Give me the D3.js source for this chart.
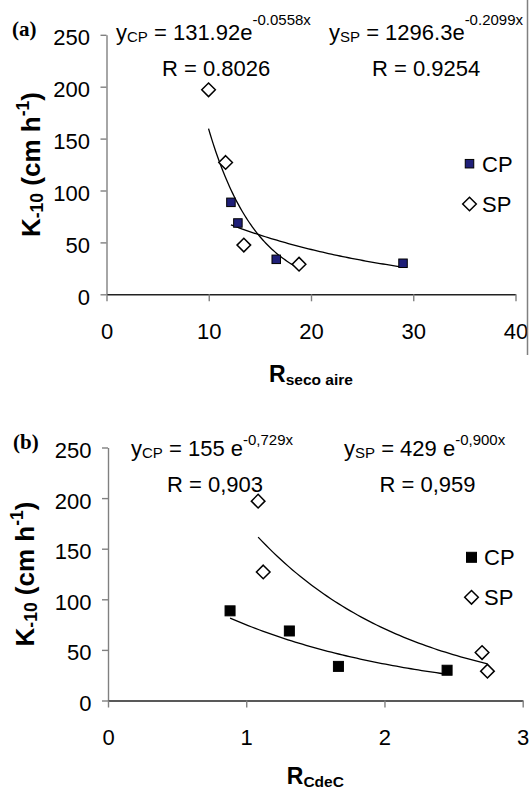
<!DOCTYPE html>
<html>
<head>
<meta charset="utf-8">
<script src="https://cdn.jsdelivr.net/npm/d3@7"></script>
<style>
  html, body { margin: 0; padding: 0; background: #fff; }
  svg { display: block; }
</style>
</head>
<body>
<svg id="chart" width="529" height="789"></svg>
<script>
// Sample measurements: K-10 infiltration (cm h-1) for CP and SP plots
const cpK10 = [88.6, 68.7, 33.7, 29.9];
const spK10 = [197, 127, 47.4, 29.0];

// Panel (a): air-dry aggregate ratio
const cpRsecoAire = [12.17, 12.85, 16.6, 29.0];
const spRsecoAire = [9.98, 11.65, 13.43, 18.83];

// Panel (b): CdeC ratio
const cpRCdeC = [0.883, 1.312, 1.667, 2.453];
const spRCdeC = [1.086, 1.123, 2.706, 2.745];

// Exponential fits y = a * e^(b x): [CP, SP]
const fitAmpA = [131.92, 1296.3];
const fitRateA = [-0.0558, -0.2099];
const fitAmpB = [155, 429];
const fitRateB = [-0.729, -0.900];

// Header labels
const eqA = [
  { sub: "CP", main: " = 131.92e", sup: "-0.0558x", r: "R = 0.8026" },
  { sub: "SP", main: " = 1296.3e", sup: "-0.2099x", r: "R = 0.9254" }
];
const eqB = [
  { sub: "CP", main: " = 155 e", sup: "-0,729x", r: "R = 0,903" },
  { sub: "SP", main: " = 429 e", sup: "-0,900x", r: "R = 0,959" }
];

const yTicks = [0, 50, 100, 150, 200, 250];
const xTicksA = [0, 10, 20, 30, 40];
const xTicksB = [0, 1, 2, 3];
const seriesNames = ["CP", "SP"];

const SANS = "'Liberation Sans', Arial, sans-serif";
const SERIF = "'Liberation Serif', 'Times New Roman', serif";

const svg = d3.select("#chart");

function drawPanel(cfg) {
  const g = svg.append("g").style("font-family", SANS);
  const x = d3.scaleLinear().domain(cfg.xDomain).range(cfg.xRange);
  const y = d3.scaleLinear().domain([0, 250]).range(cfg.yRange);

  // Y axis
  const ya = g.append("g")
    .attr("transform", `translate(${x(0)},0)`)
    .call(d3.axisLeft(y).tickValues(yTicks).tickFormat(d3.format("d"))
      .tickSize(6).tickPadding(10.5).tickSizeOuter(0));
  ya.select(".domain").attr("stroke", "#808080").attr("stroke-width", 1.4);
  ya.selectAll(".tick line").attr("stroke", "#808080").attr("stroke-width", 1.4);
  ya.selectAll(".tick text").style("font-family", SANS).attr("font-size", 22).attr("fill", "#000")
    .attr("dy", "0.45em");

  // X axis
  const xa = g.append("g")
    .attr("transform", `translate(0,${y(0)})`)
    .call(d3.axisBottom(x).tickValues(cfg.xTicks).tickFormat(d3.format("d"))
      .tickSize(7).tickPadding(22).tickSizeOuter(0));
  xa.select(".domain").attr("stroke", "#222").attr("stroke-width", 1.4);
  xa.selectAll(".tick line").attr("stroke", "#808080").attr("stroke-width", 1.4);
  xa.selectAll(".tick text").style("font-family", SANS).attr("font-size", 22).attr("fill", "#000");

  // Trend lines from the fitted equations, over each series' data range
  const line = d3.line().x(d => x(d[0])).y(d => y(d[1]));
  [cfg.cpX, cfg.spX].forEach((xs, i) => {
    const lo = d3.min(xs), hi = d3.max(xs);
    const pts = d3.range(0, 61).map(k => {
      const xv = lo + (hi - lo) * k / 60;
      return [xv, cfg.amp[i] * Math.exp(cfg.rate[i] * xv)];
    });
    g.append("path").attr("d", line(pts)).attr("fill", "none")
      .attr("stroke", "#000").attr("stroke-width", 1.3);
  });

  // CP squares
  g.selectAll(".cp").data(cfg.cpX.map((v, i) => [v, cpK10[i]])).join("rect")
    .attr("x", d => x(d[0]) - cfg.sq / 2).attr("y", d => y(d[1]) - cfg.sq / 2)
    .attr("width", cfg.sq).attr("height", cfg.sq)
    .attr("fill", cfg.cpFill).attr("stroke", "#000").attr("stroke-width", 1);

  // SP diamonds
  const dm = 6.8;
  const diamond = (cx, cy) => `M${cx},${cy - dm}L${cx + dm},${cy}L${cx},${cy + dm}L${cx - dm},${cy}Z`;
  g.selectAll(".sp").data(cfg.spX.map((v, i) => [v, spK10[i]])).join("path")
    .attr("d", d => diamond(x(d[0]), y(d[1])))
    .attr("fill", "#fff").attr("stroke", "#000").attr("stroke-width", 1.5);

  // Legend
  const lg = g.append("g");
  lg.append("rect").attr("x", cfg.legX - cfg.sq / 2).attr("y", cfg.legY1 - cfg.sq / 2)
    .attr("width", cfg.sq).attr("height", cfg.sq)
    .attr("fill", cfg.cpFill).attr("stroke", "#000").attr("stroke-width", 1);
  lg.append("path").attr("d", diamond(cfg.legX, cfg.legY2))
    .attr("fill", "#fff").attr("stroke", "#000").attr("stroke-width", 1.5);
  lg.append("text").attr("x", cfg.legX + 12.5).attr("y", cfg.legY1 + 8).attr("font-size", 22).text(seriesNames[0]);
  lg.append("text").attr("x", cfg.legX + 12.5).attr("y", cfg.legY2 + 8).attr("font-size", 22).text(seriesNames[1]);

  // Panel letter
  g.append("text").attr("x", cfg.letterX).attr("y", cfg.letterY)
    .style("font-family", SERIF)
    .attr("font-weight", "bold").attr("font-size", 21).text(cfg.letter);

  // Equations and R values
  cfg.eq.forEach((e, i) => {
    const t = g.append("text").attr("x", cfg.eqX[i]).attr("y", cfg.eqY).attr("font-size", 22);
    t.append("tspan").text("y");
    t.append("tspan").attr("font-size", 15).attr("dy", 2).text(e.sub);
    t.append("tspan").attr("dy", -2).text(e.main);
    t.append("tspan").attr("font-size", 15).attr("dy", -cfg.supRise).text(e.sup);
    g.append("text").attr("x", cfg.rX[i]).attr("y", cfg.eqY + 36).attr("font-size", 22).text(e.r);
  });

  // Y title: K-10 (cm h-1)
  const yt = g.append("text")
    .attr("transform", `translate(${cfg.yTitleX},${(cfg.yRange[0] + cfg.yRange[1]) / 2}) rotate(-90)`)
    .attr("text-anchor", "middle").attr("font-weight", "bold").attr("font-size", 26);
  yt.append("tspan").text("K");
  yt.append("tspan").attr("font-size", 17.5).attr("dy", 3).text("-10");
  yt.append("tspan").attr("dy", -3).text(" (cm h");
  yt.append("tspan").attr("font-size", 17.5).attr("dy", -11).text("-1");
  yt.append("tspan").attr("dy", 11).text(")");

  // X title
  const xt = g.append("text")
    .attr("x", (cfg.xRange[0] + cfg.xRange[1]) / 2).attr("y", cfg.xTitleY)
    .attr("text-anchor", "middle").attr("font-weight", "bold").attr("font-size", 23);
  xt.append("tspan").text("R");
  xt.append("tspan").attr("font-size", 15.5).attr("dy", 3).text(cfg.xSub);
}

drawPanel({
  xDomain: [0, 40], xRange: [106.5, 515.5], yRange: [294.3, 34.8], xTicks: xTicksA,
  cpX: cpRsecoAire, spX: spRsecoAire, amp: fitAmpA, rate: fitRateA,
  sq: 8.5, cpFill: "#1f1f78",
  legX: 469.5, legY1: 163.7, legY2: 204,
  letter: "(a)", letterX: 12, letterY: 36,
  eq: eqA, eqX: [116, 329], eqY: 40, supRise: 15, rX: [162, 372],
  yTitleX: 40, xTitleY: 382, xSub: "seco aire"
});

drawPanel({
  xDomain: [0, 3], xRange: [108, 522.7], yRange: [700.5, 447.5], xTicks: xTicksB,
  cpX: cpRCdeC, spX: spRCdeC, amp: fitAmpB, rate: fitRateB,
  sq: 10, cpFill: "#000",
  legX: 471.5, legY1: 557.3, legY2: 597.3,
  letter: "(b)", letterX: 13, letterY: 449,
  eq: eqB, eqX: [131, 344], eqY: 456, supRise: 11, rX: [167, 379.5],
  yTitleX: 34, xTitleY: 784, xSub: "CdeC"
});

// Right-hand frame edge of the upper chart
svg.append("line").attr("x1", 527.5).attr("x2", 527.5).attr("y1", 0).attr("y2", 355)
  .attr("stroke", "#808080").attr("stroke-width", 1.5);
</script>
</body>
</html>
